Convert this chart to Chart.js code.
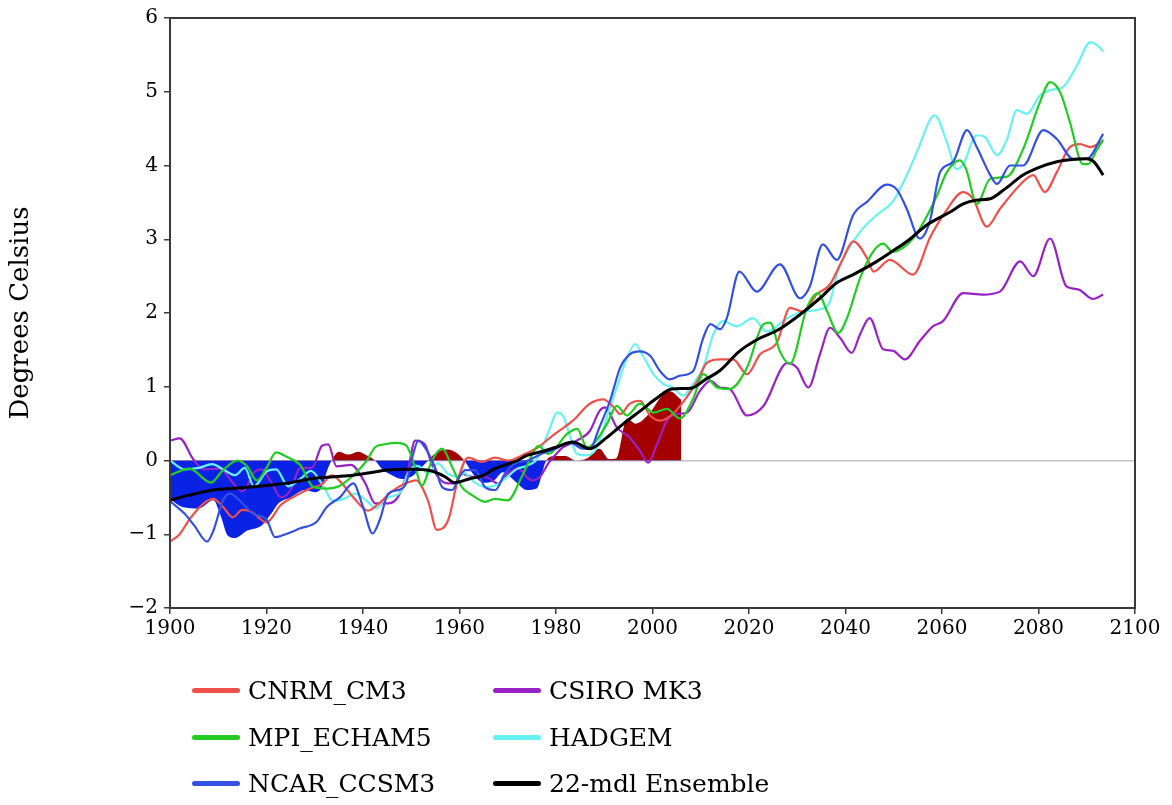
<!DOCTYPE html>
<html>
<head>
<meta charset="utf-8">
<script src="https://cdn.jsdelivr.net/npm/chart.js@4.4.1/dist/chart.umd.min.js"></script>
<style>
  html, body { margin: 0; padding: 0; background: #fff; }
  #wrap { position: relative; width: 1172px; height: 805px; }
  #legend { position: absolute; left: 0; top: 0; width: 1172px; height: 805px; pointer-events: none; }
  .item { position: absolute; display: flex; align-items: center; font-family: "DejaVu Serif", serif; font-size: 25px; color: #000; white-space: nowrap; }
  .swatch { width: 48px; height: 5px; border-radius: 3px; margin-right: 8px; }
</style>
</head>
<body>
<div id="wrap">
  <canvas id="c" width="1172" height="805"></canvas>
  <div id="legend"></div>
</div>
<script>
// ---------- data ----------
const X_TICKS = [1900, 1920, 1940, 1960, 1980, 2000, 2020, 2040, 2060, 2080, 2100];
const Y_TICKS = [-2, -1, 0, 1, 2, 3, 4, 5, 6];

const SERIES_NAMES = ["CNRM_CM3", "CSIRO MK3", "MPI_ECHAM5", "HADGEM", "NCAR_CCSM3", "22-mdl Ensemble"];
const SERIES_COLORS = ["#f0504c", "#9822c4", "#22cc22", "#66f2f2", "#3450e2", "#000000"];

const CNRM_YEARS = [1900,1902,1904,1907,1909,1911,1913,1915,1917,1920,1923,1926,1929,1931.5,1933.5,1935.5,1938,1941,1943,1946,1948.5,1951,1953.5,1955.3,1957.7,1959.7,1961.8,1964.6,1967.4,1970,1973.6,1976.3,1978.4,1980.2,1983.5,1987,1989.8,1992,1993.3,1995.3,1997.4,1999.5,2001.6,2004.2,2007,2009.5,2011.2,2014,2016.7,2019.6,2022.3,2025.8,2028.5,2031.2,2034,2036.8,2039.5,2041.6,2044.5,2045.8,2049.2,2054,2057.5,2060.5,2064.4,2066.4,2069.3,2072,2076.2,2078.9,2081.3,2083.8,2086.5,2088.6,2090.7,2093.4];
const CNRM_TEMPS = [-1.1,-1.0,-0.8,-0.58,-0.52,-0.63,-0.77,-0.67,-0.7,-0.84,-0.6,-0.48,-0.38,-0.32,-0.2,-0.3,-0.5,-0.68,-0.6,-0.42,-0.32,-0.27,-0.55,-0.94,-0.8,-0.25,0.04,-0.02,0.04,0.0,0.09,0.18,0.29,0.38,0.54,0.77,0.83,0.72,0.63,0.77,0.81,0.61,0.54,0.63,0.85,1.1,1.32,1.37,1.37,1.17,1.44,1.6,2.07,2.02,2.25,2.39,2.74,2.97,2.74,2.56,2.72,2.52,3.02,3.35,3.64,3.55,3.17,3.41,3.74,3.87,3.64,3.91,4.25,4.29,4.25,4.33];

const MPI_YEARS = [1900,1904,1908.5,1911,1914,1916,1918,1920,1922,1924.2,1927,1929.7,1932.5,1935,1938,1940.8,1942.5,1944.5,1947,1949,1950.8,1952.2,1954.3,1956.4,1958.5,1960.5,1962.6,1965.3,1967.4,1970,1972.9,1975,1976.3,1978.4,1982.3,1984.4,1986.4,1987.7,1990.6,1992.6,1994.7,1997.4,2000.2,2003,2005.7,2008.5,2010.5,2013.4,2016,2019.6,2023,2024.4,2026.4,2028.5,2032,2034.3,2036.2,2038.5,2040.3,2043,2045.7,2047.8,2049.8,2054,2057,2059,2061,2063.7,2065,2067.2,2070,2073.5,2076.8,2080.3,2082.4,2084.5,2086.5,2089.2,2090.3,2092,2093.4];
const MPI_TEMPS = [-0.2,-0.11,-0.3,-0.13,0.0,-0.08,-0.27,-0.1,0.11,0.05,-0.06,-0.36,-0.38,-0.35,-0.2,0.0,0.18,0.22,0.24,0.2,-0.09,-0.34,0.0,0.16,-0.09,-0.36,-0.47,-0.56,-0.52,-0.54,-0.22,0.07,0.2,0.09,0.36,0.43,0.18,0.22,0.5,0.74,0.61,0.77,0.65,0.7,0.57,0.85,1.17,0.99,0.97,1.26,1.85,1.87,1.48,1.31,2.07,2.27,2.02,1.73,1.93,2.47,2.83,2.94,2.83,3.01,3.33,3.6,3.91,4.07,3.95,3.48,3.82,3.85,4.22,4.86,5.13,4.99,4.59,4.02,4.02,4.2,4.35];

const NCAR_YEARS = [1900,1903,1905,1907.7,1909,1911,1912.4,1915,1917.2,1920,1921.8,1923.5,1927,1930.4,1932.5,1935.2,1938,1940,1942,1943.5,1945.2,1947.3,1949,1950.2,1951.5,1952.8,1954.9,1956.4,1958.5,1960,1961.2,1963.2,1965.3,1967.4,1969.4,1971.5,1974.2,1977,1979.5,1983,1985.6,1987,1989,1991.2,1993.3,1995.3,1997.4,1999.5,2001.6,2003.6,2005.7,2008.4,2010.5,2012,2014,2015.4,2018,2021.6,2026.4,2030.6,2032.6,2035.3,2038.2,2041.6,2044.5,2048.6,2050.7,2052.7,2055.4,2057.5,2059.6,2062.3,2065.2,2067.2,2070,2071.4,2074.1,2076.8,2081,2083.8,2087.2,2090,2093.4];
const NCAR_TEMPS = [-0.55,-0.72,-0.88,-1.1,-0.95,-0.54,-0.45,-0.58,-0.72,-0.8,-1.04,-1.01,-0.92,-0.83,-0.63,-0.5,-0.31,-0.63,-0.99,-0.8,-0.45,-0.4,-0.3,0.04,0.27,0.18,-0.09,-0.36,-0.4,-0.22,-0.13,-0.13,-0.36,-0.4,-0.18,-0.04,0.0,0.09,0.15,0.24,0.16,0.16,0.45,0.81,1.26,1.44,1.48,1.42,1.21,1.1,1.15,1.21,1.66,1.85,1.78,1.93,2.56,2.29,2.66,2.2,2.36,2.93,2.72,3.33,3.51,3.74,3.67,3.41,3.01,3.25,3.91,4.05,4.48,4.25,3.87,3.75,4.0,4.0,4.48,4.36,4.09,4.09,4.43];

const CSIRO_YEARS = [1900,1902,1904.8,1907,1910.4,1913,1915,1917.6,1919,1921,1923,1925,1927,1929.4,1931.5,1932.8,1934.5,1937.5,1940.4,1942.5,1945.2,1947.3,1949.3,1950.8,1952.8,1954.2,1955.5,1957.6,1959,1960.5,1962.6,1965.3,1968,1970,1972,1975,1976.7,1978.4,1979.8,1981.5,1984.3,1987,1989,1990.2,1992.6,1995.3,1997.4,1999.1,2001,2003,2005,2007.2,2009.8,2012,2014,2016,2019.6,2023,2027.9,2029.9,2032.3,2034.7,2036.8,2038.9,2041.3,2043,2045,2047.8,2049.8,2052.3,2055.4,2058.1,2060.2,2064.4,2068.5,2072,2076.2,2078.9,2082.4,2085.8,2088.2,2091.3,2093.4];
const CSIRO_TEMPS = [0.27,0.3,0.02,-0.12,-0.11,-0.3,-0.42,-0.15,-0.12,-0.3,-0.5,-0.4,-0.1,-0.1,0.2,0.22,-0.08,-0.06,-0.3,-0.58,-0.58,-0.49,-0.13,0.27,0.22,-0.04,-0.22,-0.31,-0.31,-0.18,-0.22,-0.22,-0.31,-0.18,-0.11,-0.27,-0.22,-0.04,0.07,0.18,0.27,0.4,0.67,0.72,0.45,0.31,0.13,-0.03,0.23,0.54,0.63,0.65,0.94,1.08,0.99,0.97,0.61,0.74,1.32,1.26,0.99,1.44,1.8,1.66,1.46,1.71,1.93,1.51,1.49,1.37,1.62,1.82,1.89,2.27,2.25,2.29,2.7,2.5,3.01,2.36,2.32,2.19,2.25];

const HADGEM_YEARS = [1900,1903,1906,1908.7,1911,1913.5,1915.5,1917.4,1920,1922,1924.5,1927,1929.2,1931.8,1933.8,1936,1938.3,1940.8,1942.7,1945,1947.5,1949.3,1950.8,1952.2,1953.5,1955.5,1957.6,1959.7,1961,1963.2,1965.3,1967.4,1969.4,1972,1974,1976.3,1977.3,1978.8,1980.2,1981.5,1983,1984.3,1986.4,1988.5,1990.5,1992.6,1994.7,1996.4,1998,2000.2,2002.2,2004.2,2006.4,2008.4,2010.5,2012.6,2014.6,2017.5,2020.8,2023.7,2027.9,2031.2,2034.7,2036.8,2038.2,2040.3,2043,2046.5,2049.8,2052.7,2055.4,2057.5,2058.5,2061,2063,2064.4,2067.2,2068.8,2071.4,2073.5,2075.5,2077.6,2080.3,2083,2085,2088,2090.7,2092,2093.4];
const HADGEM_TEMPS = [0.0,-0.12,-0.1,-0.05,-0.12,-0.2,-0.1,-0.35,-0.15,-0.12,-0.35,-0.25,-0.14,-0.35,-0.55,-0.52,-0.45,-0.55,-0.65,-0.5,-0.45,-0.18,-0.07,-0.1,-0.18,-0.04,-0.18,-0.22,-0.17,-0.3,-0.36,-0.34,-0.25,-0.11,-0.07,0.04,0.2,0.45,0.65,0.6,0.31,0.09,0.07,0.18,0.58,0.99,1.39,1.58,1.42,1.17,1.04,0.99,0.88,1.04,1.26,1.71,1.89,1.82,1.93,1.75,1.93,2.02,2.05,2.16,2.52,2.83,3.1,3.33,3.51,3.87,4.28,4.62,4.68,4.32,3.95,4.02,4.41,4.39,4.14,4.36,4.75,4.7,4.95,5.03,5.06,5.36,5.67,5.64,5.55];

const ENSEMBLE_YEARS = [1900,1904,1909,1915,1920,1925,1930,1934,1938,1942,1945,1950,1954,1957,1959,1962,1965,1967,1969,1972,1974,1977,1980,1983.5,1987,1990.5,1994,1997.4,2001,2004,2008,2011,2014,2018,2022,2026,2030,2034.7,2038,2041.6,2046.5,2050,2052.7,2057,2061.7,2064.4,2067,2070,2073,2076.8,2080,2083.8,2087,2090,2091.5,2093.4];
const ENSEMBLE_TEMPS = [-0.54,-0.47,-0.4,-0.37,-0.34,-0.3,-0.24,-0.22,-0.2,-0.16,-0.13,-0.12,-0.14,-0.22,-0.3,-0.25,-0.2,-0.12,-0.07,0.0,0.07,0.12,0.18,0.25,0.16,0.31,0.5,0.67,0.85,0.97,0.98,1.1,1.22,1.48,1.65,1.77,1.95,2.2,2.4,2.52,2.7,2.85,2.97,3.2,3.37,3.48,3.53,3.55,3.68,3.87,3.97,4.05,4.08,4.09,4.05,3.87];

const OBS_YEARS = [1900,1902.5,1906,1909,1910.5,1912,1913.5,1916,1919,1921,1922.5,1925,1928,1930,1931.5,1932.5,1933.5,1935,1937,1939,1941,1942.5,1944,1946,1948,1950,1952,1953.5,1955,1957.5,1959.5,1961,1963,1965,1967,1969,1971.5,1974,1976,1978,1980,1982,1984,1986.5,1989,1991,1992.5,1994.7,1996.5,1999.5,2002,2003.6,2006];
const OBS_TEMPS = [-0.52,-0.63,-0.65,-0.54,-0.75,-1.02,-1.05,-0.95,-0.88,-0.72,-0.58,-0.5,-0.4,-0.43,-0.36,-0.15,0.0,0.12,0.08,0.12,0.06,0.0,-0.12,-0.2,-0.25,-0.22,-0.1,0.0,0.1,0.15,0.1,0.0,-0.2,-0.3,-0.28,-0.16,-0.28,-0.4,-0.38,0.0,0.06,0.06,0.0,0.03,0.16,0.02,0.03,0.57,0.5,0.65,0.88,0.94,0.82];

// ---------- build ----------
const pts = (xs, ys) => xs.map((x, i) => ({ x: x, y: ys[i] }));
const SERIES = [
  [CNRM_YEARS, CNRM_TEMPS],
  [CSIRO_YEARS, CSIRO_TEMPS],
  [MPI_YEARS, MPI_TEMPS],
  [HADGEM_YEARS, HADGEM_TEMPS],
  [NCAR_YEARS, NCAR_TEMPS],
  [ENSEMBLE_YEARS, ENSEMBLE_TEMPS]
];
const LINE_ORDER = [3, 5, 2, 4, 1, 0];

const datasets = SERIES.map((s, i) => ({
  label: SERIES_NAMES[i],
  data: pts(s[0], s[1]),
  borderColor: SERIES_COLORS[i],
  backgroundColor: SERIES_COLORS[i],
  borderWidth: i === 5 ? 3 : 2.2,
  pointRadius: 0,
  fill: false,
  cubicInterpolationMode: 'monotone',
  order: LINE_ORDER[i]
}));
datasets.push({
  label: 'Observed',
  data: pts(OBS_YEARS, OBS_TEMPS),
  borderWidth: 0,
  borderColor: 'rgba(0,0,0,0)',
  pointRadius: 0,
  cubicInterpolationMode: 'monotone',
  fill: { target: 'origin', above: '#a40000', below: '#0a22e4' },
  order: 20
});

const framePlugin = {
  id: 'frame',
  afterDraw(chart) {
    const a = chart.chartArea, ctx = chart.ctx;
    ctx.save();
    ctx.strokeStyle = '#3a3a3a';
    ctx.lineWidth = 2;
    ctx.strokeRect(a.left, a.top, a.right - a.left, a.bottom - a.top);
    ctx.restore();
  }
};

const fmt = v => (v < 0 ? '\u2212' + Math.abs(v) : String(v));

const chart = new Chart(document.getElementById('c'), {
  type: 'line',
  data: { datasets: datasets },
  options: {
    responsive: false,
    animation: false,
    layout: { padding: { left: 0, right: 37, top: 15, bottom: 157 } },
    plugins: { legend: { display: false }, tooltip: { enabled: false } },
    scales: {
      x: {
        type: 'linear', min: 1900, max: 2100,
        afterBuildTicks: s => { s.ticks = X_TICKS.map(v => ({ value: v })); },
        afterFit: s => { s.height = 40; },
        ticks: { font: { family: 'DejaVu Serif', size: 20 }, color: '#000', padding: 3, maxRotation: 0, callback: v => String(v) },
        grid: { drawOnChartArea: false, drawTicks: true, tickLength: 6, color: '#3a3a3a', lineWidth: 1.5 },
        border: { display: true, color: '#3a3a3a', width: 2 }
      },
      y: {
        type: 'linear', min: -2, max: 6,
        afterBuildTicks: s => { s.ticks = Y_TICKS.map(v => ({ value: v })); },
        afterFit: s => { s.width = 170; },
        ticks: { font: { family: 'DejaVu Serif', size: 20 }, color: '#000', padding: 6, callback: v => fmt(v) },
        grid: {
          drawOnChartArea: true, drawTicks: true, tickLength: 6,
          color: c => (c.tick && c.tick.value === 0 ? '#c4c4c4' : 'rgba(0,0,0,0)'),
          tickColor: '#3a3a3a', lineWidth: 1.5
        },
        border: { display: true, color: '#3a3a3a', width: 2 },
        title: { display: true, text: 'Degrees Celsius', font: { family: 'DejaVu Serif', size: 26 }, color: '#000', padding: { top: 6, bottom: 0 } }
      }
    }
  },
  plugins: [framePlugin]
});

// ---------- legend (HTML, two columns) ----------
const LEGEND_COL_X = [192, 493];
const LEGEND_ROW_Y = [690, 737, 783];
const legendEl = document.getElementById('legend');
SERIES_NAMES.forEach((name, i) => {
  const col = i % 2, row = Math.floor(i / 2);
  const it = document.createElement('div');
  it.className = 'item';
  it.style.left = LEGEND_COL_X[col] + 'px';
  it.style.top = (LEGEND_ROW_Y[row] - 17) + 'px';
  it.style.height = '34px';
  const sw = document.createElement('span');
  sw.className = 'swatch';
  sw.style.background = SERIES_COLORS[i];
  const tx = document.createElement('span');
  tx.textContent = name;
  it.appendChild(sw);
  it.appendChild(tx);
  legendEl.appendChild(it);
});
</script>
</body>
</html>
